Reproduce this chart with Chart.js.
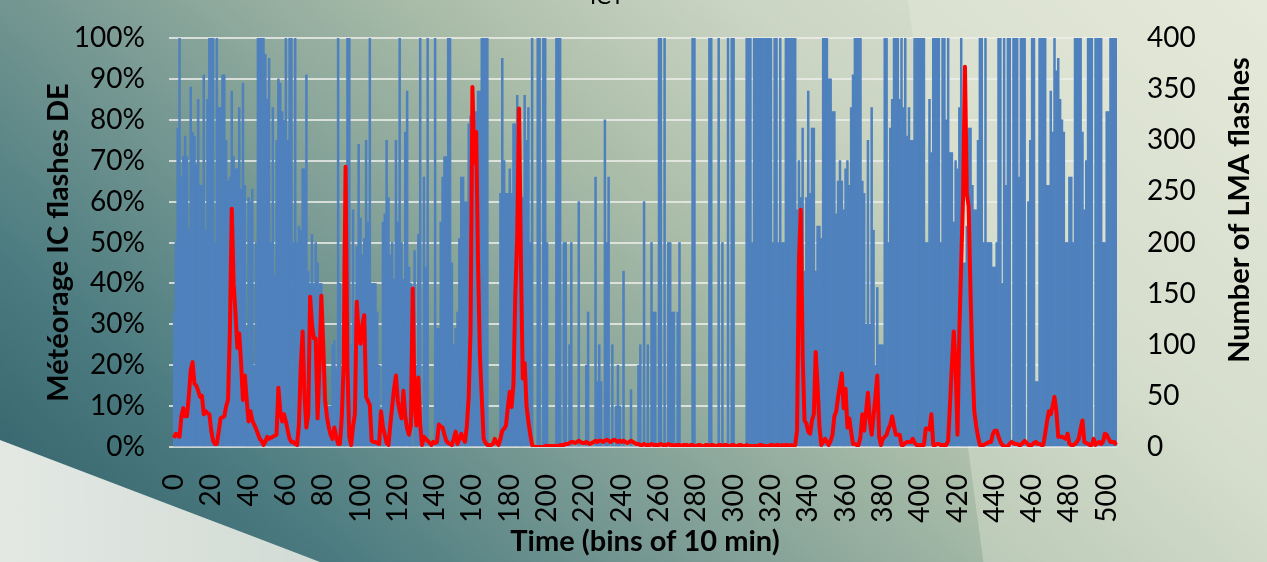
<!DOCTYPE html>
<html><head><meta charset="utf-8">
<script src="https://cdn.jsdelivr.net/npm/chart.js@4.4.0/dist/chart.umd.min.js"></script>
<style>
html,body{margin:0;padding:0;}
body{width:1267px;height:562px;overflow:hidden;position:relative;
background:linear-gradient(42deg,#2f5d67 0%,#4b7b80 18%,#7f9e96 38%,#a9bca8 55%,#cbd5c3 72%,#e2e6d6 100%);}
#tri{position:absolute;left:0;top:440px;width:320px;height:122px;clip-path:polygon(0 0,100% 100%,0 100%);background:linear-gradient(90deg,#e3e8e3,#d2dbd5);}
#band{position:absolute;left:908px;top:0;width:359px;height:562px;clip-path:polygon(0 0,100% 0,100% 100%,21% 100%);background:rgba(236,239,224,0.35);}
canvas{position:absolute;left:0;top:0;}
</style></head><body>
<div id="tri"></div><div id="band"></div>
<canvas id="c" width="1267" height="562"></canvas>
<script>
// Météorage IC flashes detection efficiency (%) per 10-min bin
const BAR_PCT = [
33,50,78,100,66,71,76,71,53,88,
77,76,69,85,64,64,91,53,85,100,
100,100,50,100,83,83,91,91,75,65,
66,87,71,68,68,83,63,89,64,29,
61,60,63,20,50,100,100,100,100,96,
85,95,50,83,42,75,90,89,82,80,
100,75,100,100,50,100,50,54,53,68,
68,91,43,40,52,40,50,45,40,40,
30,20,10,10,10,25,26,19,100,40,
0,50,56,100,100,25,58,34,49,74,
56,47,51,75,55,100,40,40,40,33,
20,0,55,57,75,61,47,50,41,75,
55,100,50,41,77,87,44,40,0,48,
20,52,100,0,66,44,100,0,0,0,
100,29,29,55,66,71,71,100,100,45,
25,29,33,51,66,66,60,60,79,81,
68,81,82,87,87,100,100,100,100,0,
0,0,0,0,0,62,95,70,62,62,
68,62,79,79,86,50,62,61,86,75,
83,50,100,0,0,100,100,0,100,100,
50,0,0,0,0,100,100,100,0,50,
50,0,25,50,0,0,0,60,0,0,
0,20,33,0,0,0,66,16,25,16,
0,80,50,66,0,25,0,10,20,10,
0,43,0,0,0,14,0,0,0,20,
25,0,60,0,25,0,50,33,33,0,
100,100,0,100,0,50,50,33,33,0,
33,50,0,0,0,0,0,0,100,100,
0,0,0,0,0,0,0,100,100,0,
0,0,100,0,50,0,0,100,0,100,
100,0,0,0,0,0,0,100,100,100,
50,100,100,100,100,100,100,100,100,100,
100,50,100,100,50,100,50,50,100,100,
100,100,100,100,58,70,61,78,43,61,
87,62,78,78,43,54,54,51,100,100,
100,90,90,82,82,57,65,70,65,58,
68,70,64,83,91,100,100,100,100,65,
62,30,75,30,83,53,20,39,25,25,
25,100,100,50,78,85,100,100,100,85,
100,83,100,76,83,75,75,100,100,100,
100,100,100,50,50,85,72,100,100,100,
100,50,100,100,80,100,72,72,55,70,
68,83,100,45,45,54,78,78,64,58,
58,75,100,100,50,100,50,50,50,44,
44,50,100,100,40,100,64,100,100,0,
100,100,100,66,100,100,100,0,60,75,
100,100,16,16,100,100,100,100,64,64,
87,77,100,92,95,85,80,77,50,50,
66,66,50,100,100,100,100,77,58,70,
100,100,100,0,100,100,100,100,50,50,
82,82,100,100,100,100
];

// Number of LMA flashes per 10-min bin
const LMA_FLASHES = [
9,13,11,10,30,38,30,30,50,75,
83,62,60,55,49,50,32,35,33,32,
16,6,3,3,15,28,29,30,40,46,
114,233,160,131,97,111,82,46,70,46,
25,35,26,22,18,13,8,6,2,5,
10,8,9,10,11,12,58,35,25,32,
25,16,8,5,5,3,2,22,80,113,
49,19,32,147,120,106,106,28,78,148,
101,46,30,19,12,8,19,10,3,3,
30,82,274,78,10,2,20,32,142,110,
101,120,129,49,45,41,6,5,5,4,
3,35,20,12,4,2,22,40,57,70,
45,35,28,55,30,18,12,21,155,40,
21,68,22,2,10,8,6,4,2,5,
4,5,22,20,19,12,6,4,3,2,
8,15,3,8,13,8,5,20,49,114,
352,278,308,180,90,49,8,4,2,2,
2,3,8,4,2,8,16,18,21,39,
54,39,62,150,206,331,180,67,82,40,
25,12,2,0,0,0,0,0,0,1,
1,1,1,1,1,1,1,2,2,2,
3,3,4,5,5,4,5,6,5,4,
4,5,4,3,4,5,6,5,6,6,
5,6,7,6,5,6,7,6,5,6,
5,6,5,4,5,6,5,4,3,3,
2,2,3,2,2,2,3,2,2,2,
2,3,2,2,2,3,2,2,1,2,
2,2,1,2,2,2,1,2,2,1,
1,2,2,1,1,2,2,1,2,2,
1,1,2,2,1,2,2,1,1,2,
2,1,1,2,2,1,1,2,1,1,
1,1,1,1,2,2,1,1,1,1,
2,2,1,2,2,1,2,1,2,2,
1,2,1,2,16,180,232,90,26,23,
15,13,26,32,93,60,20,2,5,8,
5,2,6,12,30,35,49,60,72,38,
57,19,28,15,3,3,2,2,10,32,
16,35,53,26,12,30,49,70,10,2,
8,10,12,18,22,30,20,12,12,12,
2,2,4,5,5,5,8,4,2,2,
2,2,2,18,18,17,32,2,2,3,
3,2,2,2,2,6,42,80,113,78,
12,114,180,245,372,248,235,150,82,35,
21,10,2,2,2,3,4,5,5,13,
16,16,10,5,2,1,0,1,3,5,
4,3,3,2,2,4,6,4,2,2,
2,4,5,3,3,2,2,13,25,35,
32,40,49,35,10,10,10,9,8,13,
3,2,2,3,5,8,18,26,5,4,
3,2,2,8,2,4,5,3,5,13,
12,8,5,5,5,2
];

const X_TICKS = [0,20,40,60,80,100,120,140,160,180,200,220,240,260,280,300,320,340,360,380,400,420,440,460,480,500];
const Y_LEFT_TICKS = [0,10,20,30,40,50,60,70,80,90,100];
const Y_RIGHT_TICKS = [0,50,100,150,200,250,300,350,400];
const TITLE = 'ICT';
const X_TITLE = 'Time (bins of 10 min)';
const Y_LEFT_TITLE = 'Météorage IC flashes DE';
const Y_RIGHT_TITLE = 'Number of LMA flashes';

const FONT = 'Lato';
const xTickSet = new Set(X_TICKS);
const labels = BAR_PCT.map((_, i) => i);

const extraText = {
  id: 'extraText',
  afterDraw(chart) {
    const c = chart.ctx;
    c.save();
    c.fillStyle = '#000';
    c.font = 'bold 29px ' + FONT;
    c.textAlign = 'center';
    c.textBaseline = 'middle';
    c.translate(1240, 210);
    c.rotate(-Math.PI / 2);
    c.fillText(Y_RIGHT_TITLE, 0, 0);
    c.restore();
    c.save();
    c.fillStyle = '#000';
    c.font = '22px ' + FONT;
    c.textAlign = 'center';
    c.textBaseline = 'alphabetic';
    c.fillText(TITLE, 607, 4);
    c.restore();
  }
};

function fixV(width) {
  return function (s) { s.width = width; s.paddingTop = 0; s.paddingBottom = 0; };
}

new Chart(document.getElementById('c'), {
  type: 'bar',
  data: {
    labels,
    datasets: [
      { type: 'line', label: 'LMA flashes', data: LMA_FLASHES, yAxisID: 'y1',
        borderColor: '#ff0000', borderWidth: 4, pointRadius: 0, tension: 0,
        borderJoinStyle: 'round', order: 0 },
      { type: 'bar', label: 'DE', data: BAR_PCT, yAxisID: 'y',
        backgroundColor: '#4f81bd', borderWidth: 0,
        barPercentage: 1, categoryPercentage: 1, order: 1 }
    ]
  },
  options: {
    responsive: false, animation: false, devicePixelRatio: 1,
    layout: { padding: { left: 0, right: 0, top: 38, bottom: 0 } },
    plugins: { legend: { display: false }, tooltip: { enabled: false }, title: { display: false } },
    scales: {
      x: {
        grid: { display: false, drawTicks: false },
        border: { display: false },
        ticks: { autoSkip: false, minRotation: 90, maxRotation: 90, padding: 27, color: '#000',
          font: { family: FONT, size: 28 },
          callback: (v, i) => xTickSet.has(i) ? String(i) : '' },
        title: { display: true, text: X_TITLE, color: '#000',
          font: { family: FONT, size: 29, weight: 'bold' }, padding: { top: 0, bottom: 3 } },
        afterFit(s) { s.height = 115; }
      },
      y: {
        position: 'left', min: 0, max: 100,
        afterBuildTicks(s) { s.ticks = Y_LEFT_TICKS.map(v => ({ value: v })); },
        ticks: { padding: 24, color: '#000', font: { family: FONT, size: 28 }, callback: v => v + '%' },
        grid: { color: 'rgba(236,238,234,0.8)', lineWidth: 2, drawTicks: true, tickLength: 4 },
        border: { display: false },
        title: { display: true, text: Y_LEFT_TITLE, color: '#000',
          font: { family: FONT, size: 29, weight: 'bold' }, padding: { top: 41, bottom: 0 } },
        afterFit: fixV(173)
      },
      y1: {
        position: 'right', min: 0, max: 400,
        afterBuildTicks(s) { s.ticks = Y_RIGHT_TICKS.map(v => ({ value: v })); },
        ticks: { padding: 30, color: '#000', font: { family: FONT, size: 28 } },
        grid: { drawOnChartArea: false, drawTicks: false },
        border: { display: false },
        afterFit: fixV(150)
      }
    }
  },
  plugins: [extraText]
});
</script></body></html>
